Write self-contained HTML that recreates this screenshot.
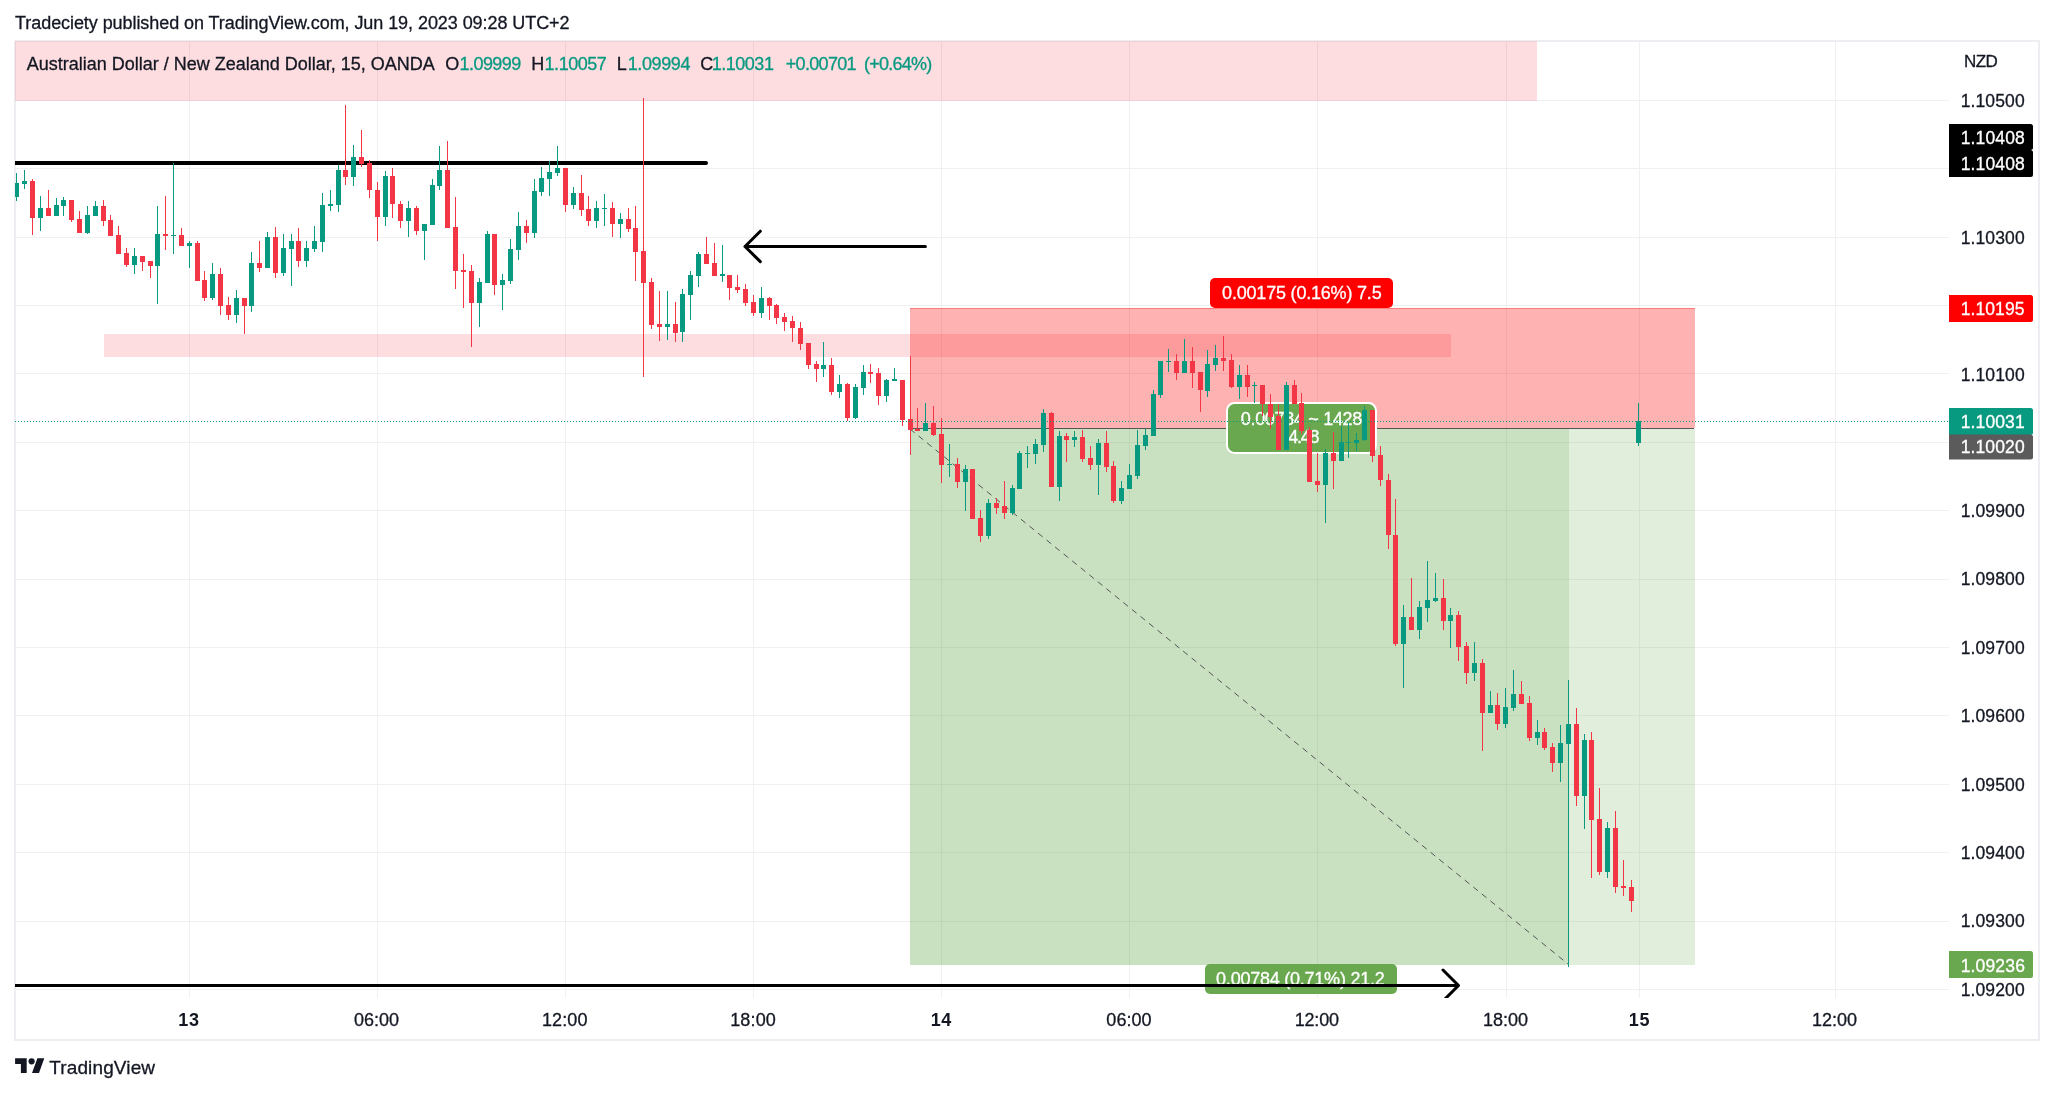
<!DOCTYPE html>
<html><head><meta charset="utf-8"><title>AUDNZD chart</title>
<style>html,body{margin:0;padding:0;background:#fff;overflow:hidden}svg{display:block;will-change:transform} svg text{shape-rendering:auto;font-family:"Liberation Sans", Arial, sans-serif}</style>
</head><body>
<svg width="2054" height="1093" viewBox="0 0 2054 1093" shape-rendering="crispEdges"><defs><clipPath id="pane"><rect x="15" y="41" width="1934" height="957"/></clipPath></defs><rect x="15" y="41" width="2024" height="999" fill="none" stroke="#eceef2" stroke-width="2"/>
<g clip-path="url(#pane)">
<rect x="16" y="100" width="1933" height="1" fill="#f0f0f1"/>
<rect x="16" y="168" width="1933" height="1" fill="#f0f0f1"/>
<rect x="16" y="237" width="1933" height="1" fill="#f0f0f1"/>
<rect x="16" y="305" width="1933" height="1" fill="#f0f0f1"/>
<rect x="16" y="373" width="1933" height="1" fill="#f0f0f1"/>
<rect x="16" y="442" width="1933" height="1" fill="#f0f0f1"/>
<rect x="16" y="510" width="1933" height="1" fill="#f0f0f1"/>
<rect x="16" y="579" width="1933" height="1" fill="#f0f0f1"/>
<rect x="16" y="647" width="1933" height="1" fill="#f0f0f1"/>
<rect x="16" y="715" width="1933" height="1" fill="#f0f0f1"/>
<rect x="16" y="784" width="1933" height="1" fill="#f0f0f1"/>
<rect x="16" y="852" width="1933" height="1" fill="#f0f0f1"/>
<rect x="16" y="921" width="1933" height="1" fill="#f0f0f1"/>
<rect x="16" y="989" width="1933" height="1" fill="#f0f0f1"/>
<rect x="189" y="42" width="1" height="956" fill="#f0f0f1"/>
<rect x="377" y="42" width="1" height="956" fill="#f0f0f1"/>
<rect x="565" y="42" width="1" height="956" fill="#f0f0f1"/>
<rect x="753" y="42" width="1" height="956" fill="#f0f0f1"/>
<rect x="941" y="42" width="1" height="956" fill="#f0f0f1"/>
<rect x="1129" y="42" width="1" height="956" fill="#f0f0f1"/>
<rect x="1317" y="42" width="1" height="956" fill="#f0f0f1"/>
<rect x="1506" y="42" width="1" height="956" fill="#f0f0f1"/>
<rect x="1639" y="42" width="1" height="956" fill="#f0f0f1"/>
<rect x="1835" y="42" width="1" height="956" fill="#f0f0f1"/>
<rect x="15" y="41" width="1522" height="60" fill="rgba(242,54,69,0.17)"/>
<rect x="104" y="334" width="1347" height="23" fill="rgba(242,54,69,0.17)"/>
<rect x="910" y="308" width="785" height="120" fill="rgba(255,0,0,0.3)"/>
<rect x="910" y="308" width="785" height="1" fill="rgba(255,0,0,0.3)"/>
<rect x="910" y="429" width="785" height="536" fill="rgba(106,168,79,0.2)"/>
<rect x="910" y="429" width="659" height="536" fill="rgba(106,168,79,0.2)"/>
<rect x="910" y="428" width="784" height="1" fill="#555"/>
<line x1="910" y1="429" x2="1568" y2="964" stroke="#555" stroke-width="1" stroke-dasharray="6 5" shape-rendering="auto"/>
<rect x="1210" y="278" width="183" height="30" rx="5" fill="#ff0000" shape-rendering="auto"/>
<rect x="1205" y="964" width="192" height="30" rx="5" fill="#6aa84f" shape-rendering="auto"/>
<rect x="1227" y="403" width="149" height="50" rx="7.5" fill="#6aa84f" stroke="#fff" stroke-width="2" shape-rendering="auto"/>
<text x="1222.11" y="298.7" font-size="18" font-weight="normal" fill="#fff" stroke="#fff" stroke-width="0.3" textLength="159.56" lengthAdjust="spacing">0.00175 (0.16%) 7.5</text>
<text x="1216.10" y="984.9" font-size="18" font-weight="normal" fill="#fff" stroke="#fff" stroke-width="0.3" textLength="168.65" lengthAdjust="spacing">0.00784 (0.71%) 21.2</text>
<text x="1240.74" y="425.4" font-size="18" font-weight="normal" fill="#fff" stroke="#fff" stroke-width="0.3" textLength="121.59" lengthAdjust="spacing">0.00784 ~ 1428</text>
<text x="1288.35" y="442.8" font-size="18" font-weight="normal" fill="#fff" stroke="#fff" stroke-width="0.3" textLength="31.25" lengthAdjust="spacing">4.48</text>
<g shape-rendering="auto">
<line x1="10" y1="163" x2="706" y2="163" stroke="#000" stroke-width="4" stroke-linecap="round"/>
<path d="M925.4 246.5 H745 M760.3 231.2 L745 246.5 L760.3 261.6" fill="none" stroke="#000" stroke-width="3" stroke-linecap="round" stroke-linejoin="round"/>
<path d="M10 985.5 H1458 M1443 970 L1458.5 985.5 L1443 1001" fill="none" stroke="#000" stroke-width="3" stroke-linecap="round" stroke-linejoin="round"/>
</g>
<rect x="16" y="173" width="1" height="28" fill="#089981"/>
<rect x="14" y="183" width="5" height="14" fill="#089981"/>
<rect x="24" y="170" width="1" height="19" fill="#089981"/>
<rect x="22" y="181" width="5" height="3" fill="#089981"/>
<rect x="32" y="179" width="1" height="56" fill="#f23645"/>
<rect x="30" y="181" width="5" height="37" fill="#f23645"/>
<rect x="40" y="196" width="1" height="35" fill="#089981"/>
<rect x="38" y="208" width="5" height="10" fill="#089981"/>
<rect x="48" y="190" width="1" height="26" fill="#f23645"/>
<rect x="46" y="208" width="5" height="8" fill="#f23645"/>
<rect x="56" y="198" width="1" height="18" fill="#089981"/>
<rect x="54" y="205" width="5" height="11" fill="#089981"/>
<rect x="63" y="197" width="1" height="19" fill="#089981"/>
<rect x="61" y="200" width="5" height="6" fill="#089981"/>
<rect x="71" y="200" width="1" height="22" fill="#f23645"/>
<rect x="69" y="200" width="5" height="20" fill="#f23645"/>
<rect x="79" y="211" width="1" height="22" fill="#f23645"/>
<rect x="77" y="219" width="5" height="14" fill="#f23645"/>
<rect x="87" y="206" width="1" height="28" fill="#089981"/>
<rect x="85" y="215" width="5" height="18" fill="#089981"/>
<rect x="95" y="201" width="1" height="15" fill="#089981"/>
<rect x="93" y="206" width="5" height="10" fill="#089981"/>
<rect x="103" y="200" width="1" height="26" fill="#f23645"/>
<rect x="101" y="206" width="5" height="15" fill="#f23645"/>
<rect x="110" y="215" width="1" height="21" fill="#f23645"/>
<rect x="108" y="220" width="5" height="16" fill="#f23645"/>
<rect x="118" y="226" width="1" height="28" fill="#f23645"/>
<rect x="116" y="235" width="5" height="19" fill="#f23645"/>
<rect x="126" y="248" width="1" height="19" fill="#f23645"/>
<rect x="124" y="253" width="5" height="12" fill="#f23645"/>
<rect x="134" y="248" width="1" height="26" fill="#089981"/>
<rect x="132" y="256" width="5" height="9" fill="#089981"/>
<rect x="142" y="256" width="1" height="15" fill="#f23645"/>
<rect x="140" y="256" width="5" height="6" fill="#f23645"/>
<rect x="150" y="261" width="1" height="17" fill="#f23645"/>
<rect x="148" y="261" width="5" height="5" fill="#f23645"/>
<rect x="157" y="206" width="1" height="98" fill="#089981"/>
<rect x="155" y="234" width="5" height="32" fill="#089981"/>
<rect x="165" y="196" width="1" height="54" fill="#f23645"/>
<rect x="163" y="234" width="5" height="2" fill="#f23645"/>
<rect x="173" y="163" width="1" height="91" fill="#089981"/>
<rect x="171" y="235" width="5" height="1" fill="#089981"/>
<rect x="181" y="228" width="1" height="18" fill="#f23645"/>
<rect x="179" y="235" width="5" height="11" fill="#f23645"/>
<rect x="189" y="241" width="1" height="27" fill="#089981"/>
<rect x="187" y="243" width="5" height="3" fill="#089981"/>
<rect x="197" y="241" width="1" height="40" fill="#f23645"/>
<rect x="195" y="243" width="5" height="38" fill="#f23645"/>
<rect x="204" y="271" width="1" height="30" fill="#f23645"/>
<rect x="202" y="280" width="5" height="18" fill="#f23645"/>
<rect x="212" y="263" width="1" height="37" fill="#089981"/>
<rect x="210" y="274" width="5" height="24" fill="#089981"/>
<rect x="220" y="268" width="1" height="47" fill="#f23645"/>
<rect x="218" y="274" width="5" height="32" fill="#f23645"/>
<rect x="228" y="297" width="1" height="23" fill="#f23645"/>
<rect x="226" y="305" width="5" height="10" fill="#f23645"/>
<rect x="236" y="290" width="1" height="33" fill="#089981"/>
<rect x="234" y="298" width="5" height="17" fill="#089981"/>
<rect x="244" y="298" width="1" height="36" fill="#f23645"/>
<rect x="242" y="298" width="5" height="8" fill="#f23645"/>
<rect x="251" y="252" width="1" height="60" fill="#089981"/>
<rect x="249" y="263" width="5" height="43" fill="#089981"/>
<rect x="259" y="241" width="1" height="31" fill="#f23645"/>
<rect x="257" y="263" width="5" height="5" fill="#f23645"/>
<rect x="267" y="232" width="1" height="36" fill="#089981"/>
<rect x="265" y="237" width="5" height="31" fill="#089981"/>
<rect x="275" y="227" width="1" height="51" fill="#f23645"/>
<rect x="273" y="237" width="5" height="36" fill="#f23645"/>
<rect x="283" y="234" width="1" height="42" fill="#089981"/>
<rect x="281" y="248" width="5" height="25" fill="#089981"/>
<rect x="291" y="234" width="1" height="52" fill="#089981"/>
<rect x="289" y="241" width="5" height="8" fill="#089981"/>
<rect x="298" y="228" width="1" height="39" fill="#f23645"/>
<rect x="296" y="241" width="5" height="20" fill="#f23645"/>
<rect x="306" y="241" width="1" height="26" fill="#089981"/>
<rect x="304" y="248" width="5" height="13" fill="#089981"/>
<rect x="314" y="226" width="1" height="26" fill="#089981"/>
<rect x="312" y="241" width="5" height="8" fill="#089981"/>
<rect x="322" y="193" width="1" height="59" fill="#089981"/>
<rect x="320" y="205" width="5" height="37" fill="#089981"/>
<rect x="330" y="190" width="1" height="21" fill="#089981"/>
<rect x="328" y="204" width="5" height="2" fill="#089981"/>
<rect x="338" y="165" width="1" height="47" fill="#089981"/>
<rect x="336" y="170" width="5" height="35" fill="#089981"/>
<rect x="345" y="105" width="1" height="80" fill="#f23645"/>
<rect x="343" y="170" width="5" height="7" fill="#f23645"/>
<rect x="353" y="145" width="1" height="41" fill="#089981"/>
<rect x="351" y="157" width="5" height="20" fill="#089981"/>
<rect x="361" y="130" width="1" height="37" fill="#f23645"/>
<rect x="359" y="157" width="5" height="7" fill="#f23645"/>
<rect x="369" y="160" width="1" height="38" fill="#f23645"/>
<rect x="367" y="163" width="5" height="27" fill="#f23645"/>
<rect x="377" y="182" width="1" height="59" fill="#f23645"/>
<rect x="375" y="190" width="5" height="27" fill="#f23645"/>
<rect x="385" y="171" width="1" height="55" fill="#089981"/>
<rect x="383" y="176" width="5" height="41" fill="#089981"/>
<rect x="392" y="168" width="1" height="50" fill="#f23645"/>
<rect x="390" y="176" width="5" height="28" fill="#f23645"/>
<rect x="400" y="201" width="1" height="27" fill="#f23645"/>
<rect x="398" y="204" width="5" height="17" fill="#f23645"/>
<rect x="408" y="201" width="1" height="36" fill="#089981"/>
<rect x="406" y="208" width="5" height="13" fill="#089981"/>
<rect x="416" y="206" width="1" height="29" fill="#f23645"/>
<rect x="414" y="208" width="5" height="23" fill="#f23645"/>
<rect x="424" y="224" width="1" height="36" fill="#089981"/>
<rect x="422" y="224" width="5" height="7" fill="#089981"/>
<rect x="432" y="179" width="1" height="46" fill="#089981"/>
<rect x="430" y="185" width="5" height="40" fill="#089981"/>
<rect x="439" y="146" width="1" height="44" fill="#089981"/>
<rect x="437" y="170" width="5" height="16" fill="#089981"/>
<rect x="447" y="141" width="1" height="87" fill="#f23645"/>
<rect x="445" y="170" width="5" height="58" fill="#f23645"/>
<rect x="455" y="197" width="1" height="92" fill="#f23645"/>
<rect x="453" y="227" width="5" height="44" fill="#f23645"/>
<rect x="463" y="254" width="1" height="54" fill="#f23645"/>
<rect x="461" y="270" width="5" height="2" fill="#f23645"/>
<rect x="471" y="265" width="1" height="82" fill="#f23645"/>
<rect x="469" y="271" width="5" height="32" fill="#f23645"/>
<rect x="479" y="278" width="1" height="49" fill="#089981"/>
<rect x="477" y="282" width="5" height="21" fill="#089981"/>
<rect x="487" y="231" width="1" height="52" fill="#089981"/>
<rect x="485" y="234" width="5" height="49" fill="#089981"/>
<rect x="494" y="234" width="1" height="61" fill="#f23645"/>
<rect x="492" y="234" width="5" height="51" fill="#f23645"/>
<rect x="502" y="274" width="1" height="36" fill="#089981"/>
<rect x="500" y="280" width="5" height="5" fill="#089981"/>
<rect x="510" y="239" width="1" height="45" fill="#089981"/>
<rect x="508" y="249" width="5" height="32" fill="#089981"/>
<rect x="518" y="212" width="1" height="48" fill="#089981"/>
<rect x="516" y="226" width="5" height="24" fill="#089981"/>
<rect x="526" y="220" width="1" height="23" fill="#f23645"/>
<rect x="524" y="226" width="5" height="7" fill="#f23645"/>
<rect x="534" y="179" width="1" height="59" fill="#089981"/>
<rect x="532" y="191" width="5" height="42" fill="#089981"/>
<rect x="541" y="167" width="1" height="29" fill="#089981"/>
<rect x="539" y="178" width="5" height="14" fill="#089981"/>
<rect x="549" y="161" width="1" height="35" fill="#089981"/>
<rect x="547" y="172" width="5" height="7" fill="#089981"/>
<rect x="557" y="146" width="1" height="30" fill="#089981"/>
<rect x="555" y="168" width="5" height="5" fill="#089981"/>
<rect x="565" y="168" width="1" height="44" fill="#f23645"/>
<rect x="563" y="168" width="5" height="37" fill="#f23645"/>
<rect x="573" y="187" width="1" height="22" fill="#089981"/>
<rect x="571" y="193" width="5" height="12" fill="#089981"/>
<rect x="581" y="175" width="1" height="41" fill="#f23645"/>
<rect x="579" y="193" width="5" height="17" fill="#f23645"/>
<rect x="588" y="196" width="1" height="30" fill="#f23645"/>
<rect x="586" y="209" width="5" height="12" fill="#f23645"/>
<rect x="596" y="201" width="1" height="27" fill="#089981"/>
<rect x="594" y="208" width="5" height="13" fill="#089981"/>
<rect x="604" y="194" width="1" height="32" fill="#089981"/>
<rect x="602" y="208" width="5" height="1" fill="#089981"/>
<rect x="612" y="202" width="1" height="35" fill="#f23645"/>
<rect x="610" y="208" width="5" height="16" fill="#f23645"/>
<rect x="620" y="213" width="1" height="25" fill="#089981"/>
<rect x="618" y="219" width="5" height="5" fill="#089981"/>
<rect x="628" y="208" width="1" height="24" fill="#f23645"/>
<rect x="626" y="219" width="5" height="10" fill="#f23645"/>
<rect x="635" y="206" width="1" height="75" fill="#f23645"/>
<rect x="633" y="228" width="5" height="24" fill="#f23645"/>
<rect x="643" y="98" width="1" height="279" fill="#f23645"/>
<rect x="641" y="251" width="5" height="32" fill="#f23645"/>
<rect x="651" y="278" width="1" height="51" fill="#f23645"/>
<rect x="649" y="282" width="5" height="43" fill="#f23645"/>
<rect x="659" y="291" width="1" height="50" fill="#f23645"/>
<rect x="657" y="324" width="5" height="3" fill="#f23645"/>
<rect x="667" y="291" width="1" height="49" fill="#089981"/>
<rect x="665" y="324" width="5" height="3" fill="#089981"/>
<rect x="675" y="302" width="1" height="40" fill="#f23645"/>
<rect x="673" y="324" width="5" height="9" fill="#f23645"/>
<rect x="682" y="289" width="1" height="53" fill="#089981"/>
<rect x="680" y="294" width="5" height="38" fill="#089981"/>
<rect x="690" y="271" width="1" height="49" fill="#089981"/>
<rect x="688" y="275" width="5" height="20" fill="#089981"/>
<rect x="698" y="252" width="1" height="35" fill="#089981"/>
<rect x="696" y="254" width="5" height="22" fill="#089981"/>
<rect x="706" y="237" width="1" height="27" fill="#f23645"/>
<rect x="704" y="254" width="5" height="10" fill="#f23645"/>
<rect x="714" y="243" width="1" height="33" fill="#f23645"/>
<rect x="712" y="263" width="5" height="13" fill="#f23645"/>
<rect x="722" y="245" width="1" height="37" fill="#089981"/>
<rect x="720" y="274" width="5" height="2" fill="#089981"/>
<rect x="729" y="275" width="1" height="25" fill="#f23645"/>
<rect x="727" y="275" width="5" height="13" fill="#f23645"/>
<rect x="737" y="275" width="1" height="18" fill="#f23645"/>
<rect x="735" y="287" width="5" height="3" fill="#f23645"/>
<rect x="745" y="284" width="1" height="22" fill="#f23645"/>
<rect x="743" y="289" width="5" height="14" fill="#f23645"/>
<rect x="753" y="295" width="1" height="21" fill="#f23645"/>
<rect x="751" y="302" width="5" height="11" fill="#f23645"/>
<rect x="761" y="287" width="1" height="31" fill="#089981"/>
<rect x="759" y="298" width="5" height="15" fill="#089981"/>
<rect x="769" y="297" width="1" height="23" fill="#f23645"/>
<rect x="767" y="298" width="5" height="8" fill="#f23645"/>
<rect x="776" y="304" width="1" height="20" fill="#f23645"/>
<rect x="774" y="305" width="5" height="13" fill="#f23645"/>
<rect x="784" y="313" width="1" height="18" fill="#f23645"/>
<rect x="782" y="317" width="5" height="5" fill="#f23645"/>
<rect x="792" y="316" width="1" height="26" fill="#f23645"/>
<rect x="790" y="321" width="5" height="7" fill="#f23645"/>
<rect x="800" y="322" width="1" height="28" fill="#f23645"/>
<rect x="798" y="328" width="5" height="16" fill="#f23645"/>
<rect x="808" y="343" width="1" height="26" fill="#f23645"/>
<rect x="806" y="343" width="5" height="22" fill="#f23645"/>
<rect x="816" y="361" width="1" height="21" fill="#f23645"/>
<rect x="814" y="364" width="5" height="5" fill="#f23645"/>
<rect x="823" y="342" width="1" height="35" fill="#089981"/>
<rect x="821" y="365" width="5" height="4" fill="#089981"/>
<rect x="831" y="358" width="1" height="37" fill="#f23645"/>
<rect x="829" y="365" width="5" height="27" fill="#f23645"/>
<rect x="839" y="375" width="1" height="23" fill="#089981"/>
<rect x="837" y="384" width="5" height="8" fill="#089981"/>
<rect x="847" y="383" width="1" height="38" fill="#f23645"/>
<rect x="845" y="384" width="5" height="34" fill="#f23645"/>
<rect x="855" y="384" width="1" height="35" fill="#089981"/>
<rect x="853" y="387" width="5" height="31" fill="#089981"/>
<rect x="863" y="365" width="1" height="30" fill="#089981"/>
<rect x="861" y="372" width="5" height="16" fill="#089981"/>
<rect x="870" y="364" width="1" height="19" fill="#f23645"/>
<rect x="868" y="372" width="5" height="2" fill="#f23645"/>
<rect x="878" y="368" width="1" height="37" fill="#f23645"/>
<rect x="876" y="373" width="5" height="23" fill="#f23645"/>
<rect x="886" y="379" width="1" height="23" fill="#089981"/>
<rect x="884" y="380" width="5" height="16" fill="#089981"/>
<rect x="894" y="368" width="1" height="13" fill="#089981"/>
<rect x="892" y="379" width="5" height="2" fill="#089981"/>
<rect x="902" y="380" width="1" height="46" fill="#f23645"/>
<rect x="900" y="380" width="5" height="40" fill="#f23645"/>
<rect x="910" y="356" width="1" height="99" fill="#f23645"/>
<rect x="908" y="419" width="5" height="11" fill="#f23645"/>
<rect x="917" y="408" width="1" height="23" fill="#f23645"/>
<rect x="915" y="429" width="5" height="2" fill="#f23645"/>
<rect x="925" y="403" width="1" height="28" fill="#089981"/>
<rect x="923" y="423" width="5" height="8" fill="#089981"/>
<rect x="933" y="406" width="1" height="30" fill="#f23645"/>
<rect x="931" y="423" width="5" height="12" fill="#f23645"/>
<rect x="941" y="418" width="1" height="65" fill="#f23645"/>
<rect x="939" y="434" width="5" height="31" fill="#f23645"/>
<rect x="949" y="444" width="1" height="33" fill="#089981"/>
<rect x="947" y="464" width="5" height="1" fill="#089981"/>
<rect x="957" y="458" width="1" height="30" fill="#f23645"/>
<rect x="955" y="464" width="5" height="18" fill="#f23645"/>
<rect x="965" y="465" width="1" height="46" fill="#089981"/>
<rect x="963" y="469" width="5" height="13" fill="#089981"/>
<rect x="972" y="469" width="1" height="50" fill="#f23645"/>
<rect x="970" y="469" width="5" height="50" fill="#f23645"/>
<rect x="980" y="510" width="1" height="32" fill="#f23645"/>
<rect x="978" y="518" width="5" height="18" fill="#f23645"/>
<rect x="988" y="499" width="1" height="40" fill="#089981"/>
<rect x="986" y="503" width="5" height="33" fill="#089981"/>
<rect x="996" y="498" width="1" height="16" fill="#f23645"/>
<rect x="994" y="503" width="5" height="5" fill="#f23645"/>
<rect x="1004" y="481" width="1" height="38" fill="#f23645"/>
<rect x="1002" y="506" width="5" height="7" fill="#f23645"/>
<rect x="1012" y="485" width="1" height="30" fill="#089981"/>
<rect x="1010" y="488" width="5" height="25" fill="#089981"/>
<rect x="1019" y="451" width="1" height="38" fill="#089981"/>
<rect x="1017" y="453" width="5" height="36" fill="#089981"/>
<rect x="1027" y="446" width="1" height="22" fill="#089981"/>
<rect x="1025" y="453" width="5" height="1" fill="#089981"/>
<rect x="1035" y="439" width="1" height="25" fill="#089981"/>
<rect x="1033" y="444" width="5" height="10" fill="#089981"/>
<rect x="1043" y="409" width="1" height="43" fill="#089981"/>
<rect x="1041" y="413" width="5" height="32" fill="#089981"/>
<rect x="1051" y="412" width="1" height="75" fill="#f23645"/>
<rect x="1049" y="413" width="5" height="74" fill="#f23645"/>
<rect x="1059" y="431" width="1" height="70" fill="#089981"/>
<rect x="1057" y="436" width="5" height="51" fill="#089981"/>
<rect x="1066" y="433" width="1" height="29" fill="#f23645"/>
<rect x="1064" y="436" width="5" height="4" fill="#f23645"/>
<rect x="1074" y="431" width="1" height="16" fill="#089981"/>
<rect x="1072" y="437" width="5" height="3" fill="#089981"/>
<rect x="1082" y="430" width="1" height="32" fill="#f23645"/>
<rect x="1080" y="437" width="5" height="22" fill="#f23645"/>
<rect x="1090" y="446" width="1" height="24" fill="#f23645"/>
<rect x="1088" y="458" width="5" height="7" fill="#f23645"/>
<rect x="1098" y="439" width="1" height="56" fill="#089981"/>
<rect x="1096" y="443" width="5" height="22" fill="#089981"/>
<rect x="1106" y="431" width="1" height="41" fill="#f23645"/>
<rect x="1104" y="443" width="5" height="24" fill="#f23645"/>
<rect x="1113" y="461" width="1" height="42" fill="#f23645"/>
<rect x="1111" y="466" width="5" height="35" fill="#f23645"/>
<rect x="1121" y="481" width="1" height="23" fill="#089981"/>
<rect x="1119" y="488" width="5" height="13" fill="#089981"/>
<rect x="1129" y="464" width="1" height="25" fill="#089981"/>
<rect x="1127" y="475" width="5" height="14" fill="#089981"/>
<rect x="1137" y="430" width="1" height="49" fill="#089981"/>
<rect x="1135" y="445" width="5" height="31" fill="#089981"/>
<rect x="1145" y="429" width="1" height="21" fill="#089981"/>
<rect x="1143" y="435" width="5" height="11" fill="#089981"/>
<rect x="1153" y="390" width="1" height="46" fill="#089981"/>
<rect x="1151" y="394" width="5" height="42" fill="#089981"/>
<rect x="1160" y="361" width="1" height="37" fill="#089981"/>
<rect x="1158" y="361" width="5" height="34" fill="#089981"/>
<rect x="1168" y="349" width="1" height="23" fill="#089981"/>
<rect x="1166" y="361" width="5" height="1" fill="#089981"/>
<rect x="1176" y="354" width="1" height="26" fill="#f23645"/>
<rect x="1174" y="361" width="5" height="12" fill="#f23645"/>
<rect x="1184" y="339" width="1" height="34" fill="#089981"/>
<rect x="1182" y="361" width="5" height="12" fill="#089981"/>
<rect x="1192" y="347" width="1" height="41" fill="#f23645"/>
<rect x="1190" y="361" width="5" height="12" fill="#f23645"/>
<rect x="1200" y="372" width="1" height="40" fill="#f23645"/>
<rect x="1198" y="372" width="5" height="18" fill="#f23645"/>
<rect x="1207" y="350" width="1" height="47" fill="#089981"/>
<rect x="1205" y="364" width="5" height="27" fill="#089981"/>
<rect x="1215" y="345" width="1" height="26" fill="#089981"/>
<rect x="1213" y="358" width="5" height="7" fill="#089981"/>
<rect x="1223" y="336" width="1" height="35" fill="#f23645"/>
<rect x="1221" y="358" width="5" height="3" fill="#f23645"/>
<rect x="1231" y="354" width="1" height="34" fill="#f23645"/>
<rect x="1229" y="360" width="5" height="27" fill="#f23645"/>
<rect x="1239" y="365" width="1" height="34" fill="#089981"/>
<rect x="1237" y="375" width="5" height="12" fill="#089981"/>
<rect x="1247" y="365" width="1" height="32" fill="#f23645"/>
<rect x="1245" y="375" width="5" height="12" fill="#f23645"/>
<rect x="1254" y="382" width="1" height="21" fill="#089981"/>
<rect x="1252" y="385" width="5" height="1" fill="#089981"/>
<rect x="1262" y="385" width="1" height="31" fill="#f23645"/>
<rect x="1260" y="385" width="5" height="19" fill="#f23645"/>
<rect x="1270" y="394" width="1" height="35" fill="#f23645"/>
<rect x="1268" y="404" width="5" height="13" fill="#f23645"/>
<rect x="1278" y="404" width="1" height="46" fill="#f23645"/>
<rect x="1276" y="416" width="5" height="34" fill="#f23645"/>
<rect x="1286" y="382" width="1" height="68" fill="#089981"/>
<rect x="1284" y="385" width="5" height="65" fill="#089981"/>
<rect x="1294" y="380" width="1" height="24" fill="#f23645"/>
<rect x="1292" y="385" width="5" height="19" fill="#f23645"/>
<rect x="1301" y="393" width="1" height="41" fill="#f23645"/>
<rect x="1299" y="403" width="5" height="28" fill="#f23645"/>
<rect x="1309" y="427" width="1" height="55" fill="#f23645"/>
<rect x="1307" y="430" width="5" height="52" fill="#f23645"/>
<rect x="1317" y="453" width="1" height="39" fill="#f23645"/>
<rect x="1315" y="481" width="5" height="4" fill="#f23645"/>
<rect x="1325" y="449" width="1" height="74" fill="#089981"/>
<rect x="1323" y="453" width="5" height="32" fill="#089981"/>
<rect x="1333" y="432" width="1" height="57" fill="#f23645"/>
<rect x="1331" y="453" width="5" height="8" fill="#f23645"/>
<rect x="1341" y="426" width="1" height="35" fill="#089981"/>
<rect x="1339" y="442" width="5" height="19" fill="#089981"/>
<rect x="1348" y="423" width="1" height="35" fill="#089981"/>
<rect x="1346" y="442" width="5" height="1" fill="#089981"/>
<rect x="1356" y="433" width="1" height="18" fill="#089981"/>
<rect x="1354" y="440" width="5" height="3" fill="#089981"/>
<rect x="1364" y="406" width="1" height="35" fill="#089981"/>
<rect x="1362" y="410" width="5" height="30" fill="#089981"/>
<rect x="1372" y="410" width="1" height="52" fill="#f23645"/>
<rect x="1370" y="410" width="5" height="46" fill="#f23645"/>
<rect x="1380" y="446" width="1" height="40" fill="#f23645"/>
<rect x="1378" y="455" width="5" height="25" fill="#f23645"/>
<rect x="1388" y="474" width="1" height="75" fill="#f23645"/>
<rect x="1386" y="480" width="5" height="55" fill="#f23645"/>
<rect x="1395" y="499" width="1" height="147" fill="#f23645"/>
<rect x="1393" y="535" width="5" height="109" fill="#f23645"/>
<rect x="1403" y="605" width="1" height="83" fill="#089981"/>
<rect x="1401" y="617" width="5" height="27" fill="#089981"/>
<rect x="1411" y="578" width="1" height="52" fill="#f23645"/>
<rect x="1409" y="617" width="5" height="13" fill="#f23645"/>
<rect x="1419" y="601" width="1" height="38" fill="#089981"/>
<rect x="1417" y="607" width="5" height="23" fill="#089981"/>
<rect x="1427" y="561" width="1" height="61" fill="#089981"/>
<rect x="1425" y="600" width="5" height="8" fill="#089981"/>
<rect x="1435" y="573" width="1" height="29" fill="#089981"/>
<rect x="1433" y="598" width="5" height="3" fill="#089981"/>
<rect x="1443" y="579" width="1" height="51" fill="#f23645"/>
<rect x="1441" y="598" width="5" height="23" fill="#f23645"/>
<rect x="1450" y="608" width="1" height="40" fill="#089981"/>
<rect x="1448" y="615" width="5" height="6" fill="#089981"/>
<rect x="1458" y="611" width="1" height="50" fill="#f23645"/>
<rect x="1456" y="615" width="5" height="32" fill="#f23645"/>
<rect x="1466" y="642" width="1" height="42" fill="#f23645"/>
<rect x="1464" y="646" width="5" height="27" fill="#f23645"/>
<rect x="1474" y="642" width="1" height="39" fill="#089981"/>
<rect x="1472" y="663" width="5" height="10" fill="#089981"/>
<rect x="1482" y="659" width="1" height="92" fill="#f23645"/>
<rect x="1480" y="663" width="5" height="50" fill="#f23645"/>
<rect x="1490" y="691" width="1" height="22" fill="#089981"/>
<rect x="1488" y="705" width="5" height="8" fill="#089981"/>
<rect x="1497" y="693" width="1" height="37" fill="#f23645"/>
<rect x="1495" y="705" width="5" height="19" fill="#f23645"/>
<rect x="1505" y="688" width="1" height="40" fill="#089981"/>
<rect x="1503" y="707" width="5" height="17" fill="#089981"/>
<rect x="1513" y="670" width="1" height="41" fill="#089981"/>
<rect x="1511" y="694" width="5" height="14" fill="#089981"/>
<rect x="1521" y="681" width="1" height="23" fill="#f23645"/>
<rect x="1519" y="694" width="5" height="10" fill="#f23645"/>
<rect x="1529" y="696" width="1" height="45" fill="#f23645"/>
<rect x="1527" y="703" width="5" height="35" fill="#f23645"/>
<rect x="1537" y="720" width="1" height="25" fill="#089981"/>
<rect x="1535" y="732" width="5" height="6" fill="#089981"/>
<rect x="1544" y="728" width="1" height="22" fill="#f23645"/>
<rect x="1542" y="732" width="5" height="16" fill="#f23645"/>
<rect x="1552" y="743" width="1" height="29" fill="#f23645"/>
<rect x="1550" y="747" width="5" height="16" fill="#f23645"/>
<rect x="1560" y="725" width="1" height="57" fill="#089981"/>
<rect x="1558" y="743" width="5" height="20" fill="#089981"/>
<rect x="1568" y="680" width="1" height="287" fill="#089981"/>
<rect x="1566" y="724" width="5" height="20" fill="#089981"/>
<rect x="1576" y="708" width="1" height="98" fill="#f23645"/>
<rect x="1574" y="724" width="5" height="72" fill="#f23645"/>
<rect x="1584" y="734" width="1" height="95" fill="#089981"/>
<rect x="1582" y="740" width="5" height="56" fill="#089981"/>
<rect x="1591" y="732" width="1" height="146" fill="#f23645"/>
<rect x="1589" y="740" width="5" height="80" fill="#f23645"/>
<rect x="1599" y="788" width="1" height="87" fill="#f23645"/>
<rect x="1597" y="819" width="5" height="53" fill="#f23645"/>
<rect x="1607" y="822" width="1" height="56" fill="#089981"/>
<rect x="1605" y="828" width="5" height="44" fill="#089981"/>
<rect x="1615" y="811" width="1" height="82" fill="#f23645"/>
<rect x="1613" y="828" width="5" height="59" fill="#f23645"/>
<rect x="1623" y="860" width="1" height="36" fill="#f23645"/>
<rect x="1621" y="886" width="5" height="2" fill="#f23645"/>
<rect x="1631" y="880" width="1" height="32" fill="#f23645"/>
<rect x="1629" y="887" width="5" height="14" fill="#f23645"/>
<rect x="1638" y="403" width="1" height="43" fill="#089981"/>
<rect x="1636" y="421" width="5" height="22" fill="#089981"/>
<line x1="15" y1="421.5" x2="1949" y2="421.5" stroke="#089981" stroke-width="1" stroke-dasharray="1 2"/>
</g>
<text x="1963.95" y="66.5" font-size="17" font-weight="normal" fill="#131722" stroke="#131722" stroke-width="0.3" textLength="33.78" lengthAdjust="spacing">NZD</text>
<text x="1960.66" y="107.4" font-size="17.5" font-weight="normal" fill="#131722" stroke="#131722" stroke-width="0.3" textLength="64.02" lengthAdjust="spacing">1.10500</text>
<text x="1960.66" y="244.4" font-size="17.5" font-weight="normal" fill="#131722" stroke="#131722" stroke-width="0.3" textLength="64.02" lengthAdjust="spacing">1.10300</text>
<text x="1960.66" y="381.4" font-size="17.5" font-weight="normal" fill="#131722" stroke="#131722" stroke-width="0.3" textLength="64.02" lengthAdjust="spacing">1.10100</text>
<text x="1960.66" y="517.4" font-size="17.5" font-weight="normal" fill="#131722" stroke="#131722" stroke-width="0.3" textLength="64.02" lengthAdjust="spacing">1.09900</text>
<text x="1960.66" y="585.4" font-size="17.5" font-weight="normal" fill="#131722" stroke="#131722" stroke-width="0.3" textLength="64.02" lengthAdjust="spacing">1.09800</text>
<text x="1960.66" y="654.4" font-size="17.5" font-weight="normal" fill="#131722" stroke="#131722" stroke-width="0.3" textLength="64.02" lengthAdjust="spacing">1.09700</text>
<text x="1960.66" y="722.4" font-size="17.5" font-weight="normal" fill="#131722" stroke="#131722" stroke-width="0.3" textLength="64.02" lengthAdjust="spacing">1.09600</text>
<text x="1960.66" y="791.4" font-size="17.5" font-weight="normal" fill="#131722" stroke="#131722" stroke-width="0.3" textLength="64.02" lengthAdjust="spacing">1.09500</text>
<text x="1960.66" y="859.4" font-size="17.5" font-weight="normal" fill="#131722" stroke="#131722" stroke-width="0.3" textLength="64.02" lengthAdjust="spacing">1.09400</text>
<text x="1960.66" y="927.4" font-size="17.5" font-weight="normal" fill="#131722" stroke="#131722" stroke-width="0.3" textLength="64.02" lengthAdjust="spacing">1.09300</text>
<text x="1960.66" y="996.4" font-size="17.5" font-weight="normal" fill="#131722" stroke="#131722" stroke-width="0.3" textLength="64.02" lengthAdjust="spacing">1.09200</text>
<path d="M1949 124 H2030.5 Q2033 124 2033 126.5 V147.5 Q2033 150 2030.5 150 H1949 Z" fill="#000" shape-rendering="auto"/>
<text x="1960.66" y="144.2" font-size="17.5" font-weight="normal" fill="#fff" stroke="#fff" stroke-width="0.3" textLength="64.18" lengthAdjust="spacing">1.10408</text>
<path d="M1949 150 H2030.5 Q2033 150 2033 152.5 V174.5 Q2033 177 2030.5 177 H1949 Z" fill="#000" shape-rendering="auto"/>
<text x="1960.66" y="169.5" font-size="17.5" font-weight="normal" fill="#fff" stroke="#fff" stroke-width="0.3" textLength="64.18" lengthAdjust="spacing">1.10408</text>
<path d="M1949 295 H2030.5 Q2033 295 2033 297.5 V319.5 Q2033 322 2030.5 322 H1949 Z" fill="#ff0000" shape-rendering="auto"/>
<text x="1960.66" y="314.7" font-size="17.5" font-weight="normal" fill="#fff" stroke="#fff" stroke-width="0.3" textLength="63.86" lengthAdjust="spacing">1.10195</text>
<path d="M1949 408 H2030.5 Q2033 408 2033 410.5 V432.5 Q2033 435 2030.5 435 H1949 Z" fill="#089981" shape-rendering="auto"/>
<text x="1960.66" y="427.5" font-size="17.5" font-weight="normal" fill="#fff" stroke="#fff" stroke-width="0.3" textLength="64.05" lengthAdjust="spacing">1.10031</text>
<path d="M1949 434.5 H2030.5 Q2033 434.5 2033 437.0 V457.0 Q2033 459.5 2030.5 459.5 H1949 Z" fill="#5b5b5b" shape-rendering="auto"/>
<text x="1960.66" y="453.2" font-size="17.5" font-weight="normal" fill="#fff" stroke="#fff" stroke-width="0.3" textLength="64.02" lengthAdjust="spacing">1.10020</text>
<path d="M1949 951 H2030.5 Q2033 951 2033 953.5 V975.5 Q2033 978 2030.5 978 H1949 Z" fill="#6aa84f" shape-rendering="auto"/>
<text x="1960.66" y="971.7" font-size="17.5" font-weight="normal" fill="#fff" stroke="#fff" stroke-width="0.3" textLength="64.23" lengthAdjust="spacing">1.09236</text>
<text x="178.15" y="1026.2" font-size="18" font-weight="bold" fill="#131722" stroke="#131722" stroke-width="0.0" textLength="20.87" lengthAdjust="spacing">13</text>
<text x="354.10" y="1026.2" font-size="18" font-weight="normal" fill="#131722" stroke="#131722" stroke-width="0.3" textLength="44.98" lengthAdjust="spacing">06:00</text>
<text x="541.94" y="1026.2" font-size="18" font-weight="normal" fill="#131722" stroke="#131722" stroke-width="0.3" textLength="45.54" lengthAdjust="spacing">12:00</text>
<text x="730.20" y="1026.2" font-size="18" font-weight="normal" fill="#131722" stroke="#131722" stroke-width="0.3" textLength="45.61" lengthAdjust="spacing">18:00</text>
<text x="930.73" y="1026.2" font-size="18" font-weight="bold" fill="#131722" stroke="#131722" stroke-width="0.0" textLength="20.48" lengthAdjust="spacing">14</text>
<text x="1106.35" y="1026.2" font-size="18" font-weight="normal" fill="#131722" stroke="#131722" stroke-width="0.3" textLength="45.15" lengthAdjust="spacing">06:00</text>
<text x="1294.67" y="1026.2" font-size="18" font-weight="normal" fill="#131722" stroke="#131722" stroke-width="0.3" textLength="44.39" lengthAdjust="spacing">12:00</text>
<text x="1483.12" y="1026.2" font-size="18" font-weight="normal" fill="#131722" stroke="#131722" stroke-width="0.3" textLength="44.95" lengthAdjust="spacing">18:00</text>
<text x="1628.73" y="1026.2" font-size="18" font-weight="bold" fill="#131722" stroke="#131722" stroke-width="0.0" textLength="20.89" lengthAdjust="spacing">15</text>
<text x="1812.12" y="1026.2" font-size="18" font-weight="normal" fill="#131722" stroke="#131722" stroke-width="0.3" textLength="44.95" lengthAdjust="spacing">12:00</text>
<text x="15.07" y="29" font-size="18" font-weight="normal" fill="#131722" stroke="#131722" stroke-width="0.3" textLength="554.46" lengthAdjust="spacing">Tradeciety published on TradingView.com, Jun 19, 2023 09:28 UTC+2</text>
<text x="26.74" y="70" font-size="18" font-weight="normal" fill="#131722" stroke="#131722" stroke-width="0.3" textLength="407.95" lengthAdjust="spacing">Australian Dollar / New Zealand Dollar, 15, OANDA</text>
<text x="445.24" y="70" font-size="18" font-weight="normal" fill="#131722" stroke="#131722" stroke-width="0.3">O</text>
<text x="459.50" y="70" font-size="18" font-weight="normal" fill="#089981" stroke="#089981" stroke-width="0.3" textLength="61.82" lengthAdjust="spacing">1.09999</text>
<text x="531.21" y="70" font-size="18" font-weight="normal" fill="#131722" stroke="#131722" stroke-width="0.3">H</text>
<text x="544.57" y="70" font-size="18" font-weight="normal" fill="#089981" stroke="#089981" stroke-width="0.3" textLength="62.32" lengthAdjust="spacing">1.10057</text>
<text x="616.68" y="70" font-size="18" font-weight="normal" fill="#131722" stroke="#131722" stroke-width="0.3">L</text>
<text x="627.66" y="70" font-size="18" font-weight="normal" fill="#089981" stroke="#089981" stroke-width="0.3" textLength="62.84" lengthAdjust="spacing">1.09994</text>
<text x="700.31" y="70" font-size="18" font-weight="normal" fill="#131722" stroke="#131722" stroke-width="0.3">C</text>
<text x="711.66" y="70" font-size="18" font-weight="normal" fill="#089981" stroke="#089981" stroke-width="0.3" textLength="62.27" lengthAdjust="spacing">1.10031</text>
<text x="785.80" y="70" font-size="18" font-weight="normal" fill="#089981" stroke="#089981" stroke-width="0.3" textLength="70.79" lengthAdjust="spacing">+0.00701</text>
<text x="864.09" y="70" font-size="18" font-weight="normal" fill="#089981" stroke="#089981" stroke-width="0.3" textLength="68.27" lengthAdjust="spacing">(+0.64%)</text>
<g fill="#131722" shape-rendering="auto"><path d="M15.1 1058.2 H26.7 V1073 H20.9 V1063.9 H15.1 Z"/><circle cx="31.6" cy="1061.3" r="3.1"/><path d="M37.4 1058.2 H44.3 L39 1073 H32 Z"/></g>
<text x="49.25" y="1073.6" font-size="19" font-weight="normal" fill="#131722" stroke="#131722" stroke-width="0.3" textLength="105.81" lengthAdjust="spacing">TradingView</text></svg>
</body></html>
